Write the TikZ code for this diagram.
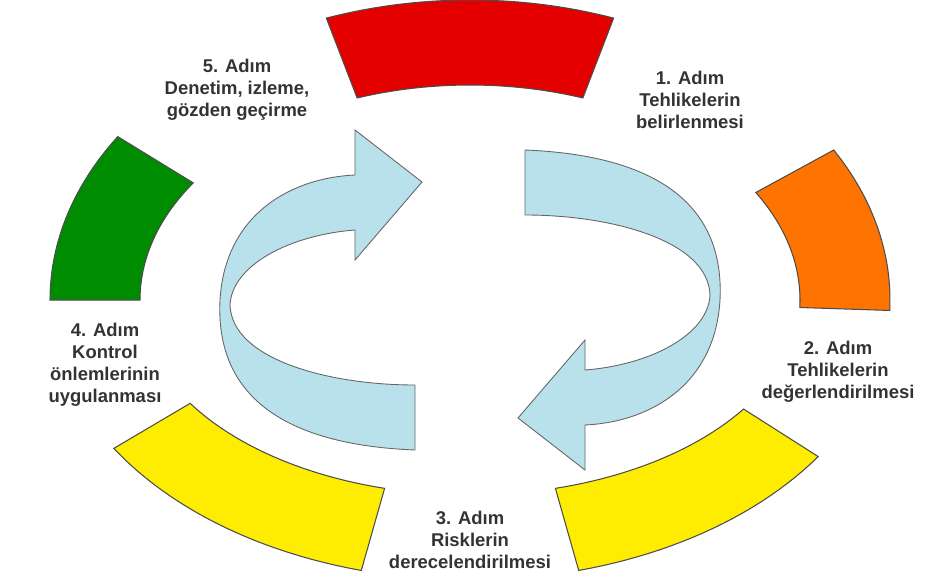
\documentclass[tikz,border=0pt]{standalone}
\usepackage{fontspec}
\setmainfont{Liberation Sans}
\definecolor{skyturn}{HTML}{B9E1EC}
\begin{document}
\begin{tikzpicture}[x=0.02cm,y=-0.02cm]

		\tikzstyle{stage}  = [align=center, font=\fontsize{10.5}{12.5}\selectfont\bfseries, text=black!80]
		\tikzstyle{band}  = [draw=black!70, line width=0.6pt]
		\tikzstyle{turn}  = [draw=black!60, line width=0.5pt, fill=skyturn]
		\useasboundingbox (0,0) rectangle (943,588);

		%%Ring segments
		\filldraw[band, fill=red!90!black] plot[domain=-110:-70] ({470+420*cos(\x)},{300+300*sin(\x)}) -- plot[domain=-70:-110] ({470+330*cos(\x)},{300+215*sin(\x)}) -- cycle;
		\filldraw[band, fill=orange!90!red] plot[domain=-30:2] ({470+420*cos(\x)},{300+300*sin(\x)}) -- plot[domain=2:-30] ({470+330*cos(\x)},{300+215*sin(\x)}) -- cycle;
		\filldraw[band, fill=yellow!95!orange] plot[domain=34:75] ({470+420*cos(\x)},{300+280*sin(\x)}) -- plot[domain=75:34] ({470+330*cos(\x)},{300+195*sin(\x)}) -- cycle;
		\filldraw[band, fill=yellow!95!orange] plot[domain=105:148] ({470+420*cos(\x)},{300+280*sin(\x)}) -- plot[domain=148:105] ({470+330*cos(\x)},{300+195*sin(\x)}) -- cycle;
		\filldraw[band, fill=green!55!black] plot[domain=180:213] ({470+420*cos(\x)},{300+300*sin(\x)}) -- plot[domain=213:180] ({470+330*cos(\x)},{300+215*sin(\x)}) -- cycle;

		%%Cycle arrows
		\foreach \r in {0,180}
		{
		\filldraw[turn, rotate around={\r:(470,300)}] (415,450) .. controls (290,445) and (215,400) .. (220,300)
			.. controls (225,215) and (290,178) .. (355,175) -- (355,130) -- (422,182) -- (355,260) -- (355,230)
			.. controls (290,235) and (232,265) .. (230,305) .. controls (232,360) and (330,385) .. (415,385) -- cycle;
		}

		%%Labels
		\node [stage] (s5) at (237,90) {5. Adım\\Denetim, izleme,\\gözden geçirme};
		\node [stage] (s1) at (690,100) {1. Adım\\Tehlikelerin\\belirlenmesi};
		\node [stage] (s2) at (838,372) {2. Adım\\Tehlikelerin\\değerlendirilmesi};
		\node [stage] (s3) at (470,540) {3. Adım\\Risklerin\\derecelendirilmesi};
		\node [stage] (s4) at (105,365) {4. Adım\\Kontrol\\önlemlerinin\\uygulanması};
	\end{tikzpicture}
\end{document}
